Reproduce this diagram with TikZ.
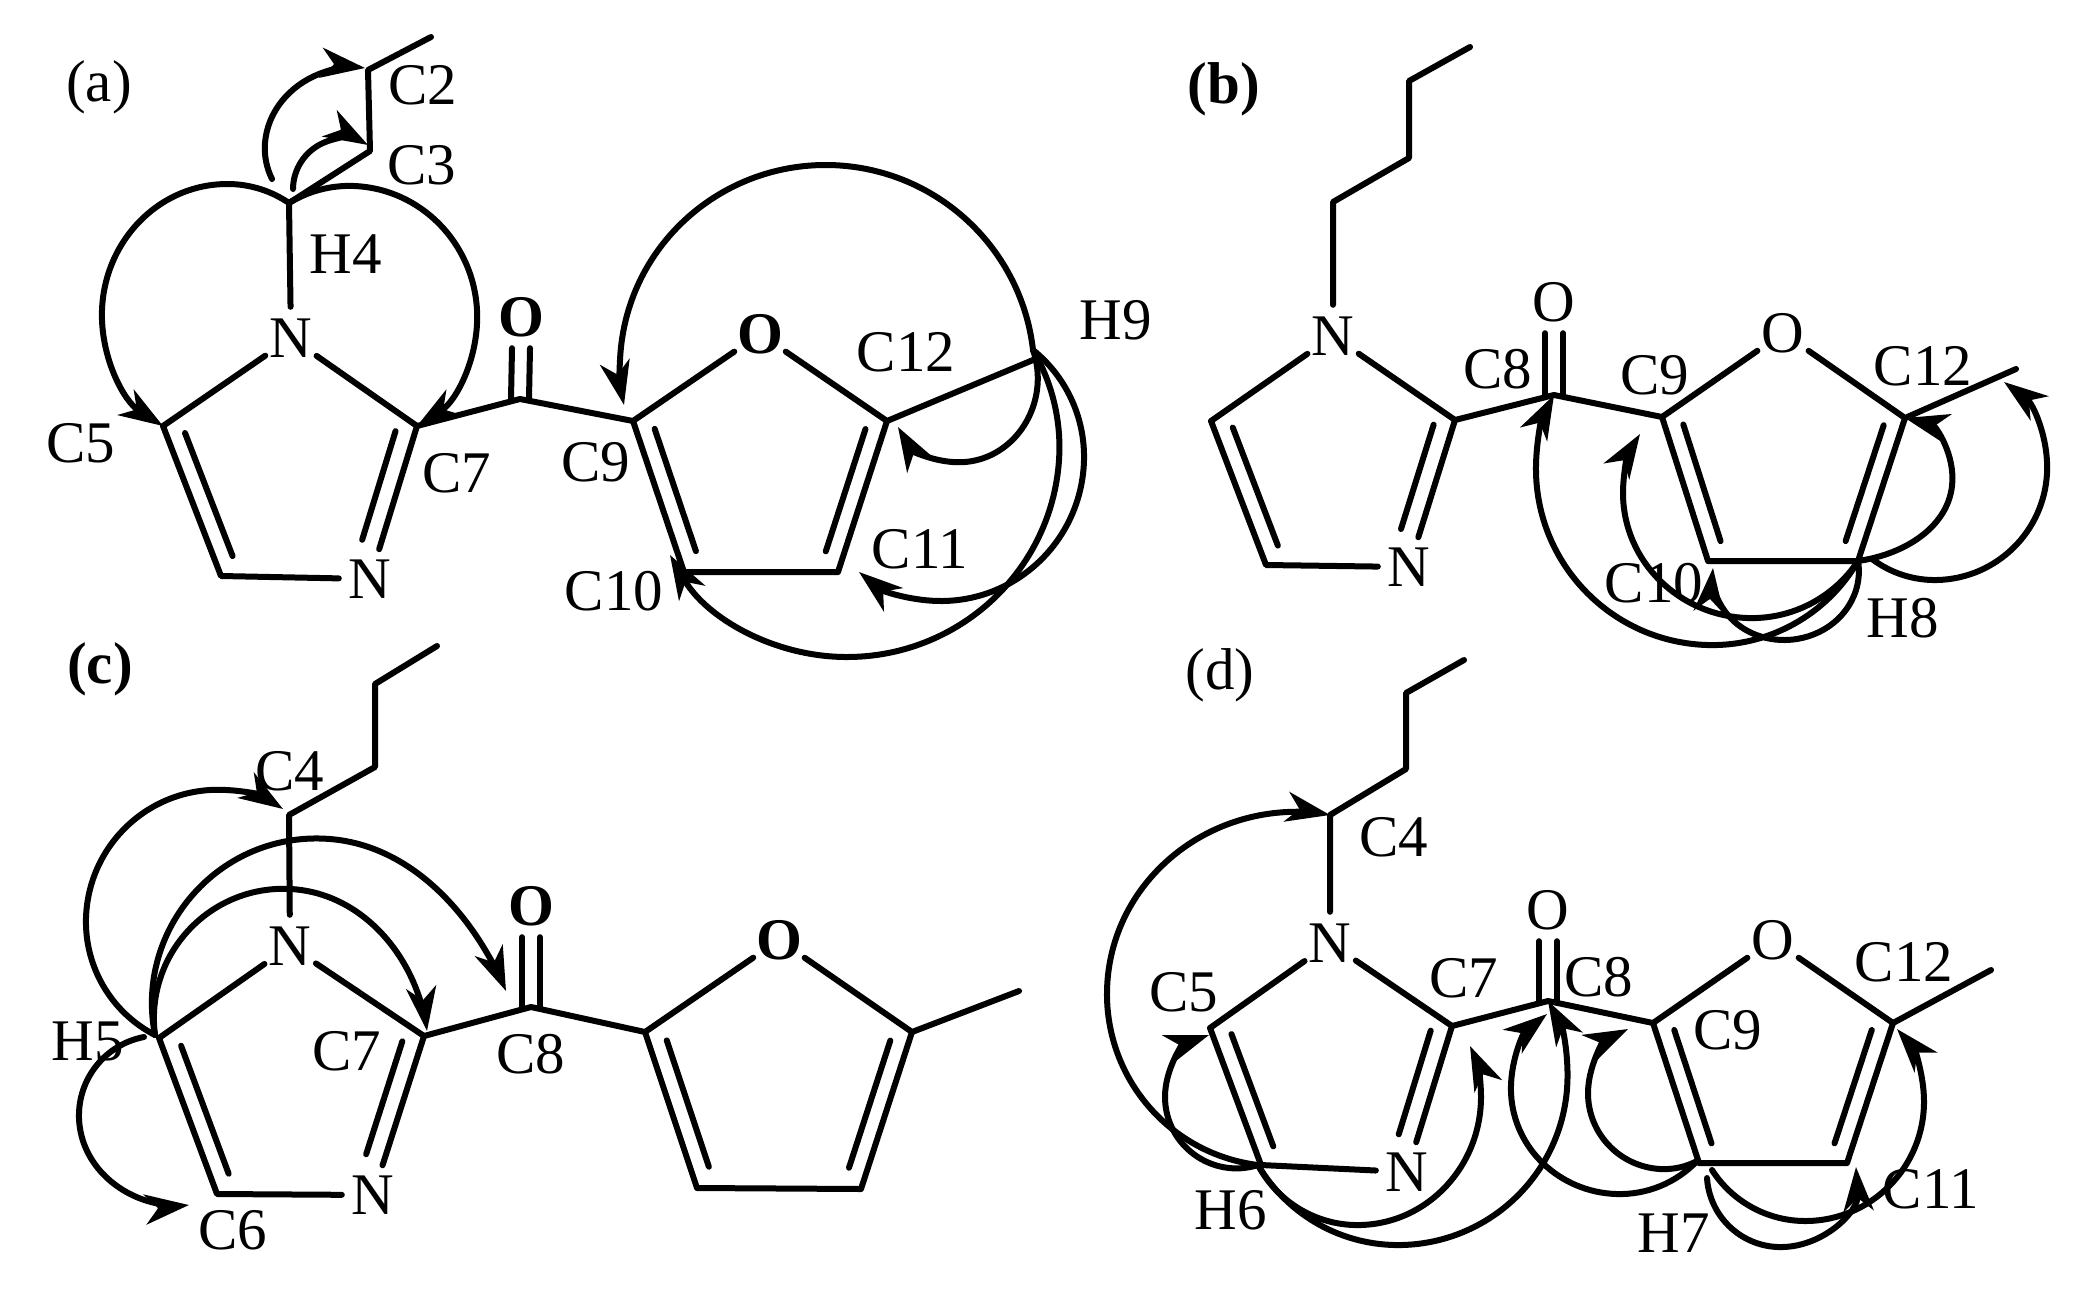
\documentclass[tikz,border=0pt]{standalone}
\usepackage{fontspec}
\setmainfont{Liberation Serif}
\usetikzlibrary{arrows.meta,calc,hobby}

% Bond lines of one panel, #1 is the panel prefix
\newcommand{\innerbond}[5]{\draw [bond] ($(#1)!#4!(#2)!#3!90:(#2)$) -- ($(#1)!#5!(#2)!#3!90:(#2)$);}
\newcommand{\skeleton}[1]{
    \draw [bond] (#1Me) -- (#1C2) -- (#1C3) -- (#1C4) -- (#1N1);
    \draw [bond] (#1N1) -- (#1C5) -- (#1C6) -- (#1N3);
    \draw [bond] (#1N1) -- (#1C7) -- (#1N3);
    \draw [bond] (#1C7) -- (#1C8) -- (#1C9) -- (#1Of) -- (#1C12) -- (#1Mf);
    \draw [bond] (#1C9) -- (#1C10) -- (#1C11) -- (#1C12);
    \draw [bond] ([xshift=-9pt]#1O.south) -- ([xshift=-9pt]#1C8);
    \draw [bond] ([xshift=9pt]#1O.south) -- ([xshift=9pt]#1C8);
    \innerbond{#1C5}{#1C6}{18pt}{.09}{.91}
    \innerbond{#1C7}{#1N3}{-19pt}{.07}{.78}
    \innerbond{#1C9}{#1C10}{18pt}{.09}{.9}
    \innerbond{#1C12}{#1C11}{-18pt}{.09}{.9}
}

\tikzset{
    bond/.style={line width=6pt, line cap=round, line join=round},
    hmbc/.style={line width=6pt, line cap=round, ->, use Hobby shortcut},
    lbl/.style={inner sep=0pt, font=\fontsize{59}{60}\selectfont},
    atom/.style={circle, inner sep=0pt, minimum size=62pt, font=\fontsize{59}{60}\selectfont},
    atomb/.style={atom, font=\fontsize{59}{60}\selectfont\bfseries}
}

\begin{document}
\begin{tikzpicture}[x=1pt, y=-1pt, >={Stealth[length=44pt, width=30pt, inset=13pt]}]
    \useasboundingbox (0,0) rectangle (2076,1288);

    % Panel a
    \coordinate (aMe) at (431,37);   \coordinate (aC2) at (368,70);
    \coordinate (aC3) at (370,151);  \coordinate (aC4) at (289,203);
    \coordinate (aC5) at (163,426);  \coordinate (aC6) at (221,576);
    \coordinate (aC7) at (417,426);  \coordinate (aC8) at (520,399);
    \coordinate (aC9) at (633,421);  \coordinate (aC10) at (684,572);
    \coordinate (aC11) at (838,572); \coordinate (aC12) at (887,421);
    \coordinate (aMf) at (1033,360); \coordinate (aH9) at (1033,350);
    \node [atom]  (aN1) at (291,338) {N};
    \node [atom]  (aN3) at (370,579) {N};
    \node [atomb] (aO)  at (521,317) {O};
    \node [atomb] (aOf) at (760,334) {O};
    \skeleton{a}
    \node [lbl] (aTag) at (99,87)   {(a)};
    \node [lbl] (aLC2) at (423,85)  {C2};
    \node [lbl] (aLC3) at (422,165) {C3};
    \node [lbl] (aLH4) at (346,254) {H4};
    \node [lbl] (aLC5) at (81,443)  {C5};
    \node [lbl] (aLC7) at (457,473) {C7};
    \node [lbl] (aLC9) at (596,462) {C9};
    \node [lbl] (aLC10) at (614,591) {C10};
    \node [lbl] (aLC11) at (920,549) {C11};
    \node [lbl] (aLC12) at (906,352) {C12};
    \node [lbl] (aLH9) at (1116,320) {H9};
    \draw [hmbc] (272,179) .. (265,143) .. (319,74) .. (365,68);
    \draw [hmbc] (293,189) .. (323,143) .. (368,145);
    \draw [hmbc] (aC4) .. (228,184) .. (102,310) .. (aC5);
    \draw [hmbc] (aC4) .. (354,186) .. (477,310) .. (aC7);
    \draw [hmbc] (aH9) .. (826,165) .. (621,347) .. (624,405);
    \draw [hmbc] (aH9) .. (1037,390) .. (965,462) .. (898,427);
    \draw [hmbc] (aH9) .. (1084,460) .. (943,601) .. (859,572);
    \draw [hmbc] (aH9) .. (1059,460) .. (845,657) .. (670,555);

    % Panel b
    \coordinate (bMe) at (1470,47);  \coordinate (bC2) at (1409,81);
    \coordinate (bC3) at (1409,158); \coordinate (bC4) at (1333,202);
    \coordinate (bC5) at (1211,421); \coordinate (bC6) at (1266,565);
    \coordinate (bC7) at (1455,420); \coordinate (bC8) at (1554,395);
    \coordinate (bC9) at (1662,417); \coordinate (bC10) at (1708,561);
    \coordinate (bC11) at (1858,561);\coordinate (bC12) at (1905,418);
    \coordinate (bMf) at (2016,369); \coordinate (bH8) at (1858,561);
    \node [atom] (bN1) at (1333,336) {N};
    \node [atom] (bN3) at (1409,567) {N};
    \node [atom] (bO)  at (1554,302) {O};
    \node [atom] (bOf) at (1783,333) {O};
    \skeleton{b}
    \node [lbl, font=\fontsize{59}{60}\selectfont\bfseries] (bTag) at (1224,89) {(b)};
    \node [lbl] (bLC8) at (1498,369)  {C8};
    \node [lbl] (bLC9) at (1655,375)  {C9};
    \node [lbl] (bLC12) at (1923,366) {C12};
    \node [lbl] (bLC10) at (1654,583) {C10};
    \node [lbl] (bLH8) at (1903,618)  {H8};
    \draw [hmbc] (bH8) .. (1707,645) .. (1536,473) .. (bC8);
    \draw [hmbc] (bH8) .. (1747,618) .. (1623,494) .. (1640,434);
    \draw [hmbc] (bH8) .. (1856,590) .. (1785,640) .. (1722,607) .. (1713,568);
    \draw [hmbc] (bH8) .. (1884,555) .. (1952,486) .. (bC12);
    \draw [hmbc] (1872,559) .. (1937,580) .. (2047,473) .. (2004,382);

    % Panel c
    \coordinate (cMe) at (437,646);  \coordinate (cC2) at (375,684);
    \coordinate (cC3) at (375,767);  \coordinate (cC4) at (289,815);
    \coordinate (cC5) at (159,1038); \coordinate (cC6) at (217,1194);
    \coordinate (cC7) at (424,1036); \coordinate (cC8) at (531,1007);
    \coordinate (cC9) at (645,1032); \coordinate (cC10) at (697,1188);
    \coordinate (cC11) at (861,1189);\coordinate (cC12) at (912,1032);
    \coordinate (cMf) at (1019,991); \coordinate (cH5) at (155,1035);
    \node [atom]  (cN1) at (290,946)  {N};
    \node [atom]  (cN3) at (373,1195) {N};
    \node [atomb] (cO)  at (531,906)  {O};
    \node [atomb] (cOf) at (779,940)  {O};
    \skeleton{c}
    \node [lbl, font=\fontsize{59}{60}\selectfont\bfseries] (cTag) at (100,669) {(c)};
    \node [lbl] (cLC4) at (290,771)  {C4};
    \node [lbl] (cLH5) at (88,1041)  {H5};
    \node [lbl] (cLC7) at (347,1051) {C7};
    \node [lbl] (cLC8) at (531,1054) {C8};
    \node [lbl] (cLC6) at (233,1230) {C6};
    \draw [hmbc] (cH5) .. (86,918) .. (210,790) .. (283,809);
    \draw [hmbc] (cH5) .. (330,839) .. (484,948) .. (506,991);
    \draw [hmbc] (cH5) .. (291,889) .. (417,991) .. (427,1031);
    \draw [hmbc] (144,1037) .. (79,1118) .. (151,1202) .. (189,1205);

    % Panel d
    \coordinate (dMe) at (1464,660);  \coordinate (dC2) at (1406,693);
    \coordinate (dC3) at (1406,769);  \coordinate (dC4) at (1330,815);
    \coordinate (dC5) at (1210,1028); \coordinate (dC6) at (1261,1165);
    \coordinate (dC7) at (1452,1026); \coordinate (dC8) at (1548,1001);
    \coordinate (dC9) at (1653,1023); \coordinate (dC10) at (1699,1163);
    \coordinate (dC11) at (1847,1163);\coordinate (dC12) at (1893,1023);
    \coordinate (dMf) at (1991,970);  \coordinate (dH6) at (1258,1165);
    \coordinate (dH7) at (1697,1161);
    \node [atom] (dN1) at (1330,943)  {N};
    \node [atom] (dN3) at (1407,1172) {N};
    \node [atom] (dO)  at (1548,910)  {O};
    \node [atom] (dOf) at (1773,940)  {O};
    \skeleton{d}
    \node [lbl] (dTag) at (1220,675)  {(d)};
    \node [lbl] (dLC4) at (1394,837)  {C4};
    \node [lbl] (dLC5) at (1184,992)  {C5};
    \node [lbl] (dLC7) at (1464,978)  {C7};
    \node [lbl] (dLC8) at (1599,977)  {C8};
    \node [lbl] (dLC9) at (1728,1030) {C9};
    \node [lbl] (dLC12) at (1904,962) {C12};
    \node [lbl] (dLH6) at (1231,1210) {H6};
    \node [lbl] (dLH7) at (1674,1233) {H7};
    \node [lbl] (dLC11) at (1931,1189) {C11};
    \draw [hmbc] (dH6) .. (1107,991) .. (1287,812) .. (dC4);
    \draw [hmbc] (dH6) .. (1165,1097) .. (1209,1035);
    \draw [hmbc] (dH6) .. (1361,1225) .. (1481,1097) .. (1470,1046);
    \draw [hmbc] (dH6) .. (1402,1245) .. (1567,1089) .. (dC8);
    \draw [hmbc] (dH7) .. (1616,1194) .. (1511,1093) .. (1547,1014);
    \draw [hmbc] (dH7) .. (1660,1169) .. (1588,1093) .. (1628,1029);
    \draw [hmbc] (1712,1170) .. (1806,1221) .. (1924,1101) .. (1897,1029);
    \draw [hmbc] (1707,1178) .. (1778,1247) .. (1856,1167);
\end{tikzpicture}
\end{document}
